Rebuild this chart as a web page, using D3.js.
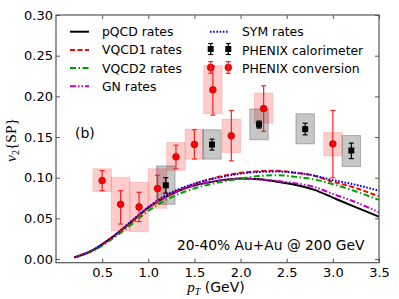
<!DOCTYPE html>
<html><head><meta charset="utf-8">
<script src="https://cdn.jsdelivr.net/npm/d3@7"></script>
<style>body{margin:0;background:#fff}svg{display:block}</style>
</head><body><svg id="c" width="399" height="299"></svg>
<script>
const xTicks=[0.5,1.0,1.5,2.0,2.5,3.0,3.5];
const yTicks=[0.00,0.05,0.10,0.15,0.20,0.25,0.30];
const curveX=[0.2,0.4,0.6,0.8,1.0,1.2,1.4,1.6,1.8,2.0,2.2,2.4,2.6,2.8,3.0,3.2,3.5];
const pqcd =[0.002,0.011,0.026,0.044,0.063,0.077,0.087,0.093,0.097,0.099,0.098,0.095,0.091,0.085,0.0755,0.066,0.052];
const vqcd1=[0.002,0.011,0.026,0.044,0.063,0.078,0.088,0.096,0.102,0.106,0.108,0.1085,0.106,0.1025,0.095,0.089,0.077];
const vqcd2=[0.002,0.010,0.024,0.041,0.059,0.073,0.083,0.090,0.095,0.099,0.102,0.103,0.101,0.098,0.092,0.085,0.0727];
const gn   =[0.002,0.011,0.026,0.044,0.063,0.077,0.087,0.093,0.097,0.099,0.098,0.096,0.093,0.0885,0.080,0.072,0.0575];
const sym  =[0.002,0.011,0.026,0.045,0.064,0.079,0.089,0.096,0.101,0.105,0.107,0.1075,0.106,0.1025,0.097,0.0925,0.084];
const convX=[0.5,0.7,0.9,1.1,1.3,1.5,1.7,1.9,2.25,3.0];
const convY=[0.0964,0.0673,0.064,0.0866,0.1256,0.1408,0.208,0.1515,0.185,0.1416];
const convErrTop=[0.1087,0.084,0.082,0.103,0.140,0.159,0.237,0.1826,0.213,0.1826];
const convErrBot=[0.0841,0.043,0.046,0.0706,0.111,0.123,0.177,0.1207,0.157,0.100];
const convSysTop=[0.111,0.1006,0.0944,0.111,0.1432,0.1597,0.2377,0.172,0.204,0.1555];
const convSysBot=[0.083,0.0345,0.0336,0.0624,0.109,0.1228,0.1786,0.131,0.167,0.1268];
const calX=[1.19,1.69,2.2,2.7,3.2];
const calY=[0.0907,0.1408,0.1654,0.1597,0.1334];
const calErrTop=[0.100,0.1474,0.1696,0.167,0.1425];
const calErrBot=[0.081,0.134,0.161,0.1527,0.1235];
const calSysTop=[0.1145,0.1589,0.1844,0.1786,0.1518];
const calSysBot=[0.0673,0.1228,0.1466,0.1416,0.1137];
const sysHalfWidth=0.1;

const svg=d3.select("#c");
const L=56,R=379,T=15,B=262.7;
const x=d3.scaleLinear().domain([0,3.5]).range([L,R]);
const y=d3.scaleLinear().domain([-0.0045,0.30]).range([B,T]);

// systematic boxes
const g=svg.append("g");
convX.forEach((cx,i)=>{
  g.append("rect").attr("x",x(cx-sysHalfWidth)).attr("width",x(cx+sysHalfWidth)-x(cx-sysHalfWidth))
   .attr("y",y(convSysTop[i])).attr("height",y(convSysBot[i])-y(convSysTop[i]))
   .attr("fill","rgba(255,0,0,0.2)").attr("stroke","rgba(255,0,0,0.15)");
});
calX.forEach((cx,i)=>{
  g.append("rect").attr("x",x(cx-sysHalfWidth)).attr("width",x(cx+sysHalfWidth)-x(cx-sysHalfWidth))
   .attr("y",y(calSysTop[i])).attr("height",y(calSysBot[i])-y(calSysTop[i]))
   .attr("fill","rgba(0,0,0,0.22)").attr("stroke","rgba(0,0,0,0.25)");
});

// curves
const series=[
 {name:"pQCD rates",v:pqcd,c:"#000",d:null},
 {name:"GN rates",v:gn,c:"#bf00bf",d:"6,2,1.5,2,1.5,2"},
 {name:"VQCD2 rates",v:vqcd2,c:"#00a000",d:"6,2.5,1.5,2.5"},
 {name:"VQCD1 rates",v:vqcd1,c:"#ff0000",d:"5,2.5"},
 {name:"SYM rates",v:sym,c:"#0000ff",d:"1.6,1.6"}
];
const line=d3.line().curve(d3.curveMonotoneX);
series.forEach(s=>{
  svg.append("path").attr("d",line(curveX.map((cx,i)=>[x(cx),y(s.v[i])])))
   .attr("fill","none").attr("stroke",s.c).attr("stroke-width",2)
   .attr("stroke-dasharray",s.d);
});

// error bars & points
function errbar(px,top,bot,col){
  svg.append("line").attr("x1",px).attr("x2",px).attr("y1",top).attr("y2",bot).attr("stroke",col).attr("stroke-width",1.2);
  [top,bot].forEach(yy=>svg.append("line").attr("x1",px-2.5).attr("x2",px+2.5).attr("y1",yy).attr("y2",yy).attr("stroke",col).attr("stroke-width",1.2));
}
convX.forEach((cx,i)=>{
  errbar(x(cx),y(convErrTop[i]),y(convErrBot[i]),"#ff2020");
  svg.append("circle").attr("cx",x(cx)).attr("cy",y(convY[i])).attr("r",3.4).attr("fill","#ff0000").attr("stroke","#900").attr("stroke-width",0.6);
});
calX.forEach((cx,i)=>{
  errbar(x(cx),y(calErrTop[i]),y(calErrBot[i]),"#000");
  svg.append("rect").attr("x",x(cx)-3).attr("y",y(calY[i])-3).attr("width",6).attr("height",6).attr("fill","#000");
});

// frame
svg.append("rect").attr("x",L).attr("y",T).attr("width",R-L).attr("height",B-T).attr("fill","none").attr("stroke","#555").attr("stroke-width",1.2);

// axes (inward ticks)
const xa=d3.axisBottom(x).tickValues(xTicks).tickFormat(d3.format(".1f")).tickSizeInner(-4).tickSizeOuter(0).tickPadding(5);
const xg=svg.append("g").attr("transform",`translate(0,${B})`).call(xa);
const xt=svg.append("g").attr("transform",`translate(0,${T})`).call(d3.axisTop(x).tickValues(xTicks).tickFormat("").tickSizeInner(-4).tickSizeOuter(0));
const ya=d3.axisLeft(y).tickValues(yTicks).tickFormat(d3.format(".2f")).tickSizeInner(-4).tickSizeOuter(0).tickPadding(3);
const yg=svg.append("g").attr("transform",`translate(${L},0)`).call(ya);
const yr=svg.append("g").attr("transform",`translate(${R},0)`).call(d3.axisRight(y).tickValues(yTicks).tickFormat("").tickSizeInner(-4).tickSizeOuter(0));
[xg,xt,yg,yr].forEach(a=>{a.select(".domain").remove();a.selectAll(".tick line").attr("stroke","#555");
  a.selectAll("text").attr("font-family","DejaVu Sans").attr("font-size",13).attr("fill","#000");});

// axis labels
svg.append("text").attr("x",216).attr("y",292).attr("text-anchor","middle").attr("font-size",14).attr("font-family","DejaVu Sans")
 .call(t=>{t.append("tspan").attr("font-family","Liberation Serif").attr("font-style","italic").attr("font-size",15).text("p");
  t.append("tspan").attr("font-family","Liberation Serif").attr("font-style","italic").attr("font-size",10).attr("dy",2.5).text("T");
  t.append("tspan").attr("dy",-2.5).text(" (GeV)");});
svg.append("text").attr("transform","translate(16,140) rotate(-90)").attr("text-anchor","middle").attr("font-family","Liberation Serif").attr("font-size",15.5)
 .call(t=>{t.append("tspan").attr("font-style","italic").text("v");
  t.append("tspan").attr("font-size",10).attr("dy",2.5).text("2");
  t.append("tspan").attr("dy",-2.5).text("{SP}");});

// annotations
svg.append("text").attr("x",75).attr("y",138).attr("font-family","DejaVu Sans").attr("font-size",14).text("(b)");
svg.append("text").attr("x",177).attr("y",250).attr("font-family","DejaVu Sans").attr("font-size",13.8).text("20-40% Au+Au @ 200 GeV");

// legend
const leg=svg.append("g").attr("font-family","DejaVu Sans").attr("font-size",12.4);
const leftRows=[series[0],series[3],series[2],series[1]];
leftRows.forEach((s,i)=>{
  const yy=31.7+i*18.2;
  leg.append("line").attr("x1",70).attr("x2",89).attr("y1",yy).attr("y2",yy).attr("stroke",s.c).attr("stroke-width",2).attr("stroke-dasharray",s.d);
  leg.append("text").attr("x",102).attr("y",yy+4.5).text(s.name);
});
leg.append("line").attr("x1",210).attr("x2",228).attr("y1",31.7).attr("y2",31.7).attr("stroke",series[4].c).attr("stroke-width",2).attr("stroke-dasharray",series[4].d);
leg.append("text").attr("x",242).attr("y",36.2).text(series[4].name);
[210.7,228.3].forEach(px=>{
  errbar(px,43.5,54.5,"#000");
  leg.append("rect").attr("x",px-3).attr("y",46).attr("width",6).attr("height",6).attr("fill","#000");
  errbar(px,61.7,73.3,"#ff2020");
  leg.append("circle").attr("cx",px).attr("cy",67.5).attr("r",3.4).attr("fill","#ff0000").attr("stroke","#900").attr("stroke-width",0.6);
});
leg.append("text").attr("x",242).attr("y",54.5).text("PHENIX calorimeter");
leg.append("text").attr("x",242).attr("y",72.8).text("PHENIX conversion");
</script></body></html>
